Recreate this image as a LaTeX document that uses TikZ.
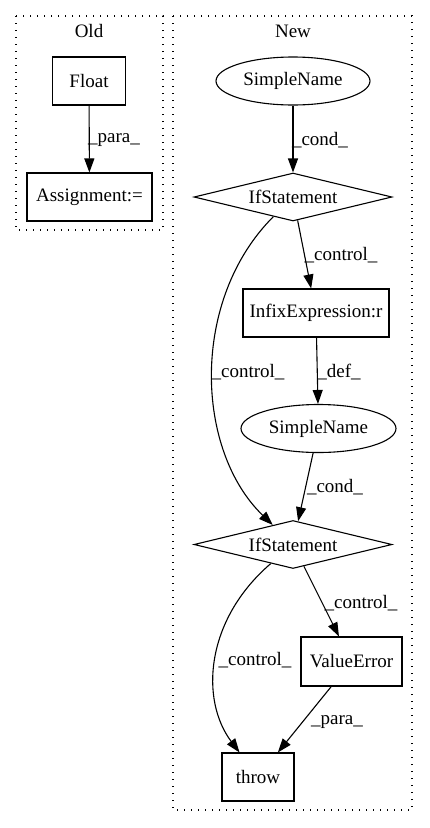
\documentclass[tikz,border=0pt]{standalone}
\usepackage{fontspec}
\setmainfont{Liberation Serif}
\usetikzlibrary{shapes.geometric,arrows.meta}
\begin{document}
\begin{tikzpicture}[x=1pt,y=-1pt,
  every node/.style={font=\fontsize{19}{22}\selectfont},
  cluster/.style={draw,line width=1.1pt,dash pattern=on 1.4pt off 5.6pt},
  boxnode/.style={draw,line width=1.1pt,rectangle,inner sep=0pt,minimum height=48pt},
  ellnode/.style={draw,line width=1.1pt,ellipse,inner sep=0pt,minimum height=48pt},
  dianode/.style={draw,line width=1.1pt,diamond,aspect=4.1,inner sep=0pt,minimum width=198pt,minimum height=48pt},
  edge/.style={draw,line width=1.1pt,-{Triangle[length=14pt,width=10pt]}},
  lbl/.style={inner sep=0pt}
]
\useasboundingbox (0,0) rectangle (429,828);
% clusters
\draw[cluster] (16,16) rectangle (163,230);
\node[lbl] (oldlbl) at (89,31) {Old};
\draw[cluster] (173,16) rectangle (412,810);
\node[lbl] (newlbl) at (293,31) {New};
% Old nodes
\node[boxnode,minimum width=73pt] (float) at (89,81) {Float};
\node[boxnode,minimum width=125pt] (assign) at (89.5,197) {Assignment:=};
% New nodes
\node[ellnode,minimum width=154pt] (sn1) at (293,81) {SimpleName};
\node[dianode] (if1) at (293,197) {IfStatement};
\node[boxnode,minimum width=146pt] (infix) at (316,313) {InfixExpression:r};
\node[ellnode,minimum width=155pt] (sn2) at (318.5,428.5) {SimpleName};
\node[dianode] (if2) at (293,544.5) {IfStatement};
\node[boxnode,minimum width=101pt,minimum height=49pt] (valerr) at (351.5,661.5) {ValueError};
\node[boxnode,minimum width=72pt] (throw) at (258,777) {throw};
% edges
\draw[edge] (float) -- (assign);
\node[lbl] (l1) at (114,140) {\_para\_};
\draw[edge] (sn1) -- (if1);
\node[lbl] (l2) at (320,140) {\_cond\_};
\draw[edge] (if1) -- (infix);
\node[lbl] (l3) at (341,255) {\_control\_};
\draw[edge] (if1) .. controls (190,300) and (195,450) .. (if2);
\node[lbl] (l4) at (248,372) {\_control\_};
\draw[edge] (infix) -- (sn2);
\node[lbl] (l5) at (339,372) {\_def\_};
\draw[edge] (sn2) -- (if2);
\node[lbl] (l6) at (335,487) {\_cond\_};
\draw[edge] (if2) -- (valerr);
\node[lbl] (l7) at (361,603) {\_control\_};
\draw[edge] (if2) .. controls (205,620) and (200,700) .. (throw);
\node[lbl] (l8) at (255,660) {\_control\_};
\draw[edge] (valerr) -- (throw);
\node[lbl] (l9) at (337,722) {\_para\_};
\end{tikzpicture}
\end{document}
